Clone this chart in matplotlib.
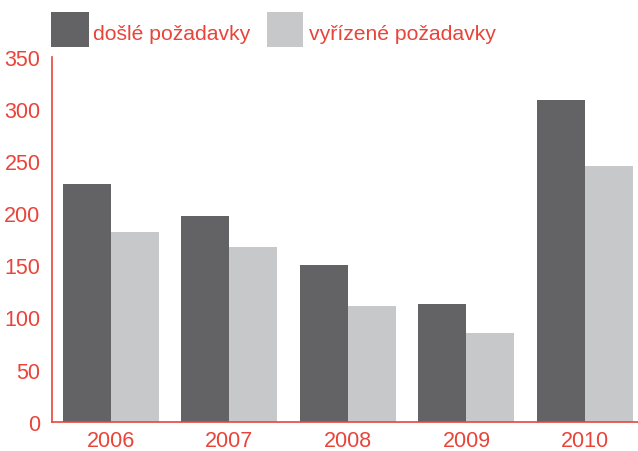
import matplotlib
matplotlib.use("Agg")
import matplotlib.pyplot as plt
from matplotlib.patches import Rectangle
import matplotlib.transforms as mtransforms
import numpy as np

years = ["2006", "2007", "2008", "2009", "2010"]
dosle = [228, 198, 151, 113, 309]
vyrizene = [182, 168, 111, 86, 246]
series_labels = ["došlé požadavky", "vyřízené požadavky"]
yticks = [0, 50, 100, 150, 200, 250, 300, 350]

RED = "#e8443a"
DARK = "#636264"
LIGHT = "#c7c8ca"

plt.rcParams['font.family'] = ['Liberation Sans', 'DejaVu Sans']

W, H = 638, 451
fig = plt.figure(figsize=(W / 100, H / 100), dpi=100)
left, right, bottom, top = 51.7, 638, 422.3, 57
ax = fig.add_axes([left / W, (H - bottom) / H, (right - left) / W, (bottom - top) / H])

x = np.arange(len(years))
bw = 0.405
ax.bar(x - bw / 2, dosle, bw, color=DARK, linewidth=0)
ax.bar(x + bw / 2, vyrizene, bw, color=LIGHT, linewidth=0)

ax.set_xlim(-0.5, -0.5 + (right - left) / 118.5)
ax.set_ylim(0, 350)
ax.set_yticks(yticks)
ax.set_yticklabels([str(t) for t in yticks])
ax.set_xticks(x)
ax.set_xticklabels(years)
ax.tick_params(axis='y', length=0, pad=8, labelsize=15.5, labelcolor=RED)
ax.tick_params(axis='x', length=0, pad=6.5, labelsize=15.5, labelcolor=RED)
off = mtransforms.ScaledTranslation(0, -3 / 100, fig.dpi_scale_trans)
for lab in ax.get_yticklabels():
    lab.set_va('center')
    lab.set_transform(lab.get_transform() + off)
for s in ['top', 'right']:
    ax.spines[s].set_visible(False)
for s in ['left', 'bottom']:
    ax.spines[s].set_color(RED)
    ax.spines[s].set_linewidth(1.2)

# legend
def px(xp, yp):
    return xp / W, (H - yp) / H

for (x0, x1), col, lab, tx in [((51, 89), DARK, series_labels[0], 93),
                                ((267, 303), LIGHT, series_labels[1], 309)]:
    fx, fy = px(x0, 47)
    fig.patches.append(Rectangle((fx, fy), (x1 - x0) / W, 35 / H, transform=fig.transFigure,
                                 facecolor=col, edgecolor='none'))
    tx_, ty_ = px(tx, 40)
    fig.text(tx_, ty_, lab, color=RED, fontsize=15.2, va='baseline', ha='left')

fig.savefig("out.png", dpi=100)
